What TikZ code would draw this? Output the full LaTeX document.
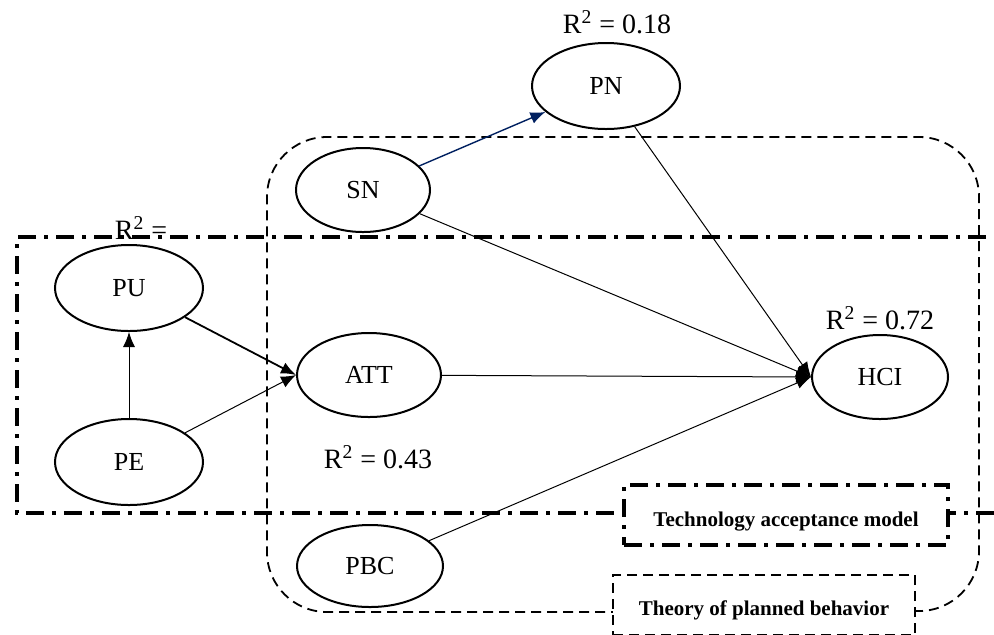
\documentclass[tikz,border=0pt]{standalone}
\usepackage{fontspec}
\setmainfont{Liberation Serif}
\usetikzlibrary{shapes.geometric,arrows.meta}
\definecolor{navyline}{RGB}{0,32,96}
\tikzset{
  lat/.style={ellipse, draw, line width=1pt, inner sep=0pt, minimum width=74pt, minimum height=43pt, font=\fontsize{13}{15}\selectfont},
  rlabel/.style={font=\fontsize{14}{16}\selectfont, inner sep=0pt},
  conn/.style={line width=0.5pt, -{Latex[length=7.5pt,width=6pt]}},
  tamline/.style={line width=1.9pt, dash pattern=on 9pt off 4pt on 2pt off 4pt},
  tpbline/.style={line width=0.9pt, dash pattern=on 5pt off 3pt},
  boxframe/.style={fill=white, draw, inner sep=0pt},
  boxtext/.style={font=\bfseries\fontsize{10.5}{12}\selectfont, inner sep=0pt}
}
\begin{document}
\begin{tikzpicture}[x=0.5pt,y=-0.5pt]
\useasboundingbox (0,0) rectangle (994,634);
% texts above
\node[rlabel] (r0) at (141,228) {R\textsuperscript{2} =};
% TAM frame
\draw[tamline] (986,237) -- (17,237) -- (17,513) -- (994,513);
% TPB frame
\draw[tpbline, rounded corners=30pt] (913,611) -- (979,611) -- (979,137) -- (267,137) -- (267,612) -- (613,612);
% nodes
\node[lat] (PN) at (606,86) {PN};
\node[lat, minimum width=67pt, minimum height=42pt] (SN) at (363,190) {SN};
\node[lat] (PU) at (129,288) {PU};
\node[lat] (PE) at (129,462) {PE};
\node[lat, minimum width=72pt, minimum height=42pt] (ATT) at (369,375) {ATT};
\node[lat, minimum width=68pt, minimum height=42pt] (HCI) at (880,377) {HCI};
\node[lat, minimum width=73pt, minimum height=41pt] (PBC) at (370,566) {PBC};
% R2 labels
\node[rlabel] (r1) at (617,22) {R\textsuperscript{2} = 0.18};
\node[rlabel] (r2) at (880,318) {R\textsuperscript{2} = 0.72};
\node[rlabel] (r3) at (378,457) {R\textsuperscript{2} = 0.43};
% connectors
\draw[conn, navyline, line width=0.7pt] (SN) -- (PN);
\draw[conn] (SN) -- (HCI.west);
\draw[conn] (PN) -- (HCI.west);
\draw[conn] (ATT) -- (HCI.west);
\draw[conn] (PBC) -- (HCI.west);
\draw[conn, line width=0.9pt] (PU) -- (ATT.west);
\draw[conn] (PE) -- (ATT.west);
\draw[conn] (PE) -- (PU);
% label boxes
\node[boxframe, tamline, minimum width=162pt, minimum height=30pt,
      label={[boxtext, yshift=-3.5pt]center:Technology acceptance model}] (tam) at (786,515) {};
\node[boxframe, tpbline, minimum width=151pt, minimum height=30pt,
      label={[boxtext, yshift=-2.5pt]center:Theory of planned behavior}] (tpb) at (764,605) {};
\end{tikzpicture}
\end{document}
